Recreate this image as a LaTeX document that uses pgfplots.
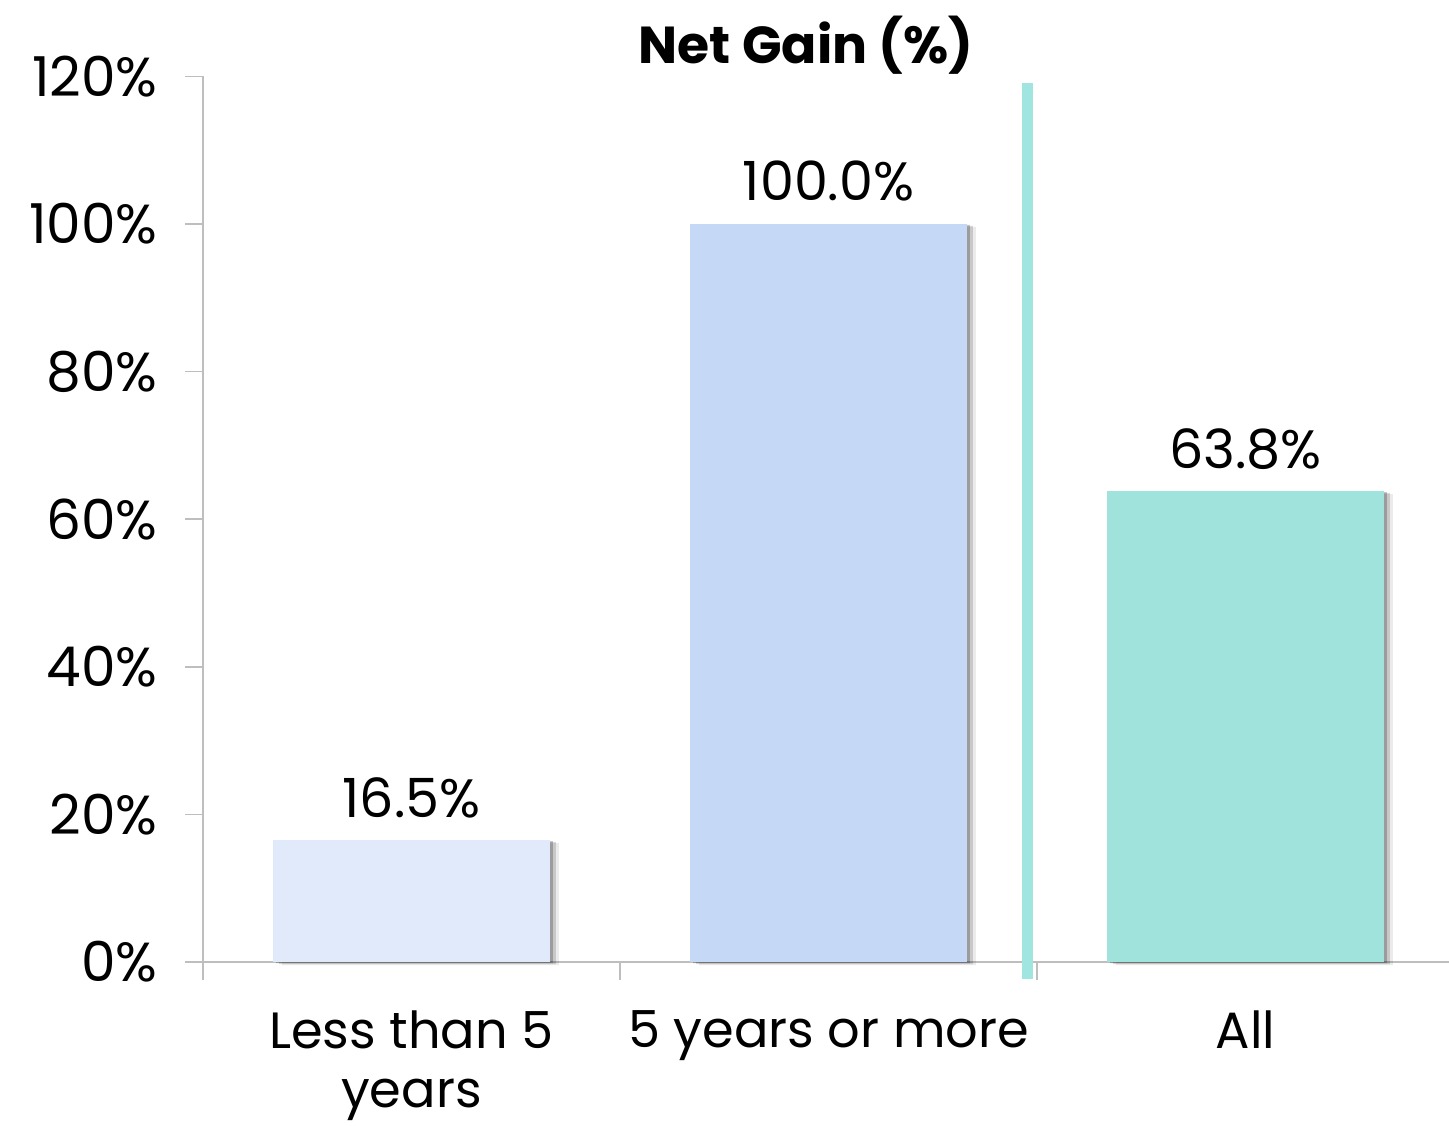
\documentclass[border=0pt]{standalone}
\usepackage{fontspec}
\setmainfont{Poppins}
\usepackage{pgfplots}
\pgfplotsset{compat=1.18}
\definecolor{barA}{RGB}{224,234,250}
\definecolor{barB}{RGB}{197,216,245}
\definecolor{barC}{RGB}{159,227,220}
\definecolor{sepcol}{RGB}{160,229,223}
\definecolor{axgray}{RGB}{190,190,190}
\begin{document}
\begin{tikzpicture}
\useasboundingbox (-101.5pt,-81.5pt) rectangle (623pt,481pt);
\begin{axis}[
  at={(0,0)}, anchor=south west,
  width=623pt, height=442.8pt, scale only axis,
  xmin=-0.5, xmax=2.488, ymin=0, ymax=120,
  clip=false,
  axis x line*=bottom, axis y line*=left,
  axis line style={draw=axgray, line width=0.8pt},
  tick align=outside,
  ytick={0,20,...,120},
  yticklabel={\pgfmathprintnumber{\tick}\%},
  /pgf/number format/assume math mode=true,
  ytick style={draw=axgray, line width=0.8pt},
  major tick length=9pt,
  minor tick length=9pt,
  xtick={0,1,2},
  xticklabels={{Less than 5\\years},{5 years or more},{All}},
  major x tick style={draw=none},
  minor xtick={-0.5,0.5,1.5},
  minor x tick style={draw=axgray, line width=0.8pt},
  xticklabel style={align=center, font=\fontsize{25.5}{29.5}\selectfont, anchor=north, inner sep=0pt, yshift=-15pt},
  yticklabel style={font=\fontsize{27.5}{30}\selectfont, anchor=east, inner sep=0pt, xshift=-13.5pt},
  title={Net Gain (\%)},
  title style={at={(0.484,1)}, anchor=base, yshift=0.5pt, inner sep=0pt, font=\bfseries\fontsize{26}{30}\selectfont},
  every node near coord/.append style={font=\fontsize{27}{30}\selectfont, anchor=base, inner sep=0pt, yshift=11.5pt, text=black},
]
% shadows
\addplot[ybar, bar width=0.664, bar shift=0pt, fill=black, draw=none, opacity=0.22, xshift=1.5pt, yshift=-0.5pt, forget plot] coordinates {(0,16.5)(1,100)(2,63.8)};
\addplot[ybar, bar width=0.664, bar shift=0pt, fill=black, draw=none, opacity=0.15, xshift=3pt, yshift=-1pt, forget plot] coordinates {(0,16.5)(1,100)(2,63.8)};
\addplot[ybar, bar width=0.664, bar shift=0pt, fill=black, draw=none, opacity=0.08, xshift=4.5pt, yshift=-1.5pt, forget plot] coordinates {(0,16.5)(1,100)(2,63.8)};
% bars
\addplot[ybar, bar width=0.664, bar shift=0pt, fill=barA, draw=none,
  nodes near coords={\pgfmathprintnumber[fixed,fixed zerofill,precision=1]{\pgfplotspointmeta}\%}] coordinates {(0,16.5)};
\addplot[ybar, bar width=0.664, bar shift=0pt, fill=barB, draw=none,
  nodes near coords={\pgfmathprintnumber[fixed,fixed zerofill,precision=1]{\pgfplotspointmeta}\%}] coordinates {(1,100)};
\addplot[ybar, bar width=0.664, bar shift=0pt, fill=barC, draw=none,
  nodes near coords={\pgfmathprintnumber[fixed,fixed zerofill,precision=1]{\pgfplotspointmeta}\%}] coordinates {(2,63.8)};
% separator
\addplot[draw=sepcol, line width=5.5pt, forget plot] coordinates {(1.477,-2.3)(1.477,119.1)};
\end{axis}
\end{tikzpicture}
\end{document}
